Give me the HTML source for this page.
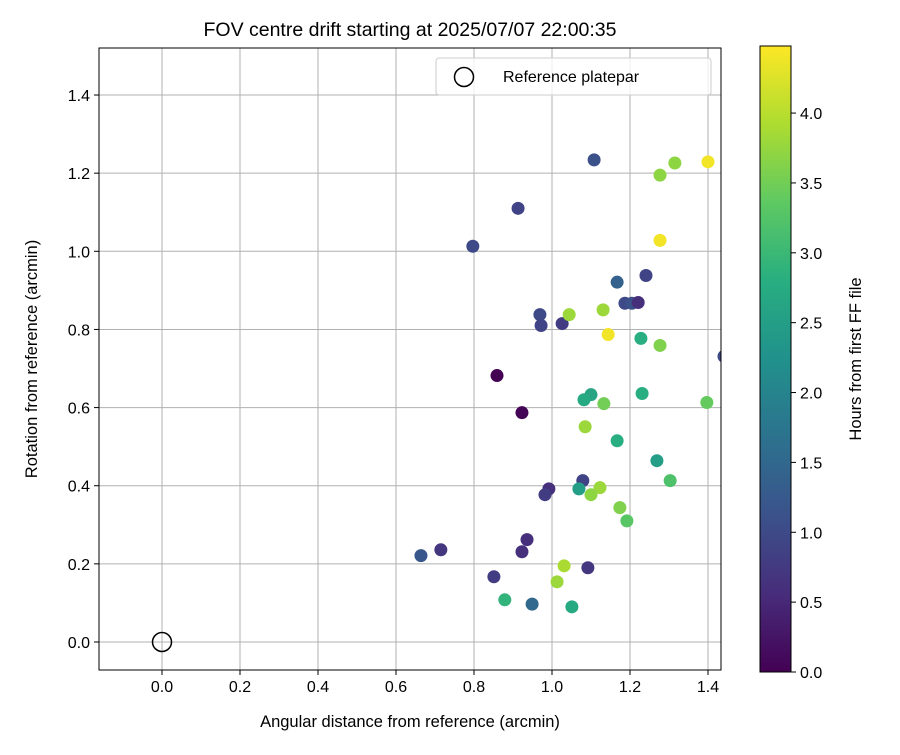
<!DOCTYPE html>
<html><head><meta charset="utf-8"><style>
body{margin:0;background:#fff;font-family:"Liberation Sans","DejaVu Sans",sans-serif}
</style></head><body>
<svg id="chart" width="900" height="750" xmlns="http://www.w3.org/2000/svg">
<defs><linearGradient id="vir" x1="0" y1="1" x2="0" y2="0">
<stop offset="0" stop-color="#440154"/><stop offset="0.125" stop-color="#472d7b"/><stop offset="0.25" stop-color="#3b528b"/><stop offset="0.375" stop-color="#2c728e"/><stop offset="0.5" stop-color="#21918c"/><stop offset="0.625" stop-color="#28ae80"/><stop offset="0.75" stop-color="#5ec962"/><stop offset="0.875" stop-color="#addc30"/><stop offset="1" stop-color="#fde725"/></linearGradient></defs>
<g id="grid"></g><g id="pts"></g><g id="axes"></g>
</svg>
<script>
const xs=[1.108,1.400,1.315,1.277,0.913,0.797,1.277,1.167,1.241,1.187,1.205,1.221,0.969,0.972,1.026,1.044,1.131,1.144,1.228,1.277,1.441,0.859,0.923,1.100,1.082,1.133,1.397,1.231,1.085,1.167,1.269,1.079,0.992,0.982,1.069,1.123,1.303,1.100,1.174,1.192,0.936,0.923,0.664,0.715,0.851,1.031,1.013,1.092,0.879,0.949,1.051];
const ys=[1.234,1.229,1.226,1.195,1.110,1.013,1.028,0.921,0.938,0.867,0.867,0.869,0.838,0.810,0.815,0.838,0.850,0.787,0.777,0.759,0.731,0.682,0.587,0.633,0.620,0.610,0.613,0.636,0.551,0.515,0.464,0.413,0.392,0.377,0.392,0.395,0.413,0.377,0.344,0.310,0.262,0.231,0.221,0.236,0.167,0.195,0.154,0.190,0.108,0.097,0.090];
const hrs=[1.1,4.4,3.7,3.7,0.9,1.0,4.4,1.4,0.9,1.0,1.1,0.6,1.0,0.9,0.8,3.8,3.8,4.4,2.8,3.6,1.0,0.0,0.05,2.6,2.7,3.5,3.4,2.8,3.8,2.8,2.5,0.9,0.6,0.8,2.5,3.8,3.2,3.7,3.6,3.3,0.6,0.6,1.2,0.7,0.8,3.9,3.8,0.7,2.9,1.5,2.7];
const xTicks=[0,0.2,0.4,0.6,0.8,1.0,1.2,1.4];
const yTicks=[0,0.2,0.4,0.6,0.8,1.0,1.2,1.4];
const cTicks=[0,0.5,1,1.5,2,2.5,3,3.5,4];
const L=99,R=721,T=48,B=670;
const X=v=>162+v*390, Y=v=>642-v*390.7;
const cmax=4.48, CY=v=>672-v/cmax*626;
const vir=["#440154","#472d7b","#3b528b","#2c728e","#21918c","#28ae80","#5ec962","#addc30","#fde725"];
function hex(h){return [1,3,5].map(i=>parseInt(h.substr(i,2),16));}
function col(v){let t=Math.max(0,Math.min(1,v/cmax))*(vir.length-1);let i=Math.min(vir.length-2,Math.floor(t)),f=t-i;let a=hex(vir[i]),b=hex(vir[i+1]);return `rgb(${a.map((c,k)=>Math.round(c+(b[k]-c)*f)).join(',')})`;}
const NS="http://www.w3.org/2000/svg";
function mk(p,tag,at,txt){const e=document.createElementNS(NS,tag);for(const k in at)e.setAttribute(k,at[k]);if(txt!=null)e.textContent=txt;p.appendChild(e);return e;}
const g=document.getElementById('grid'),pg=document.getElementById('pts'),ax=document.getElementById('axes');
xTicks.forEach(t=>{const l=mk(g,'line',{x1:X(t),x2:X(t),y1:T,y2:B,stroke:'#b0b0b0','stroke-width':1});


mk(ax,'line',{x1:X(t),x2:X(t),y1:B,y2:B+5,stroke:'#000'});
const s=mk(ax,'text',{x:X(t),y:B+22,'text-anchor':'middle','font-size':16},t.toFixed(1));

});
yTicks.forEach(t=>{const l=mk(g,'line',{x1:L,x2:R,y1:Y(t),y2:Y(t),stroke:'#b0b0b0','stroke-width':1});


mk(ax,'line',{x1:L-5,x2:L,y1:Y(t),y2:Y(t),stroke:'#000'});
const s=mk(ax,'text',{x:L-9,y:Y(t)+6,'text-anchor':'end','font-size':16},t.toFixed(1));

});
const cp=mk(pg,'clipPath',{id:'cp'});mk(cp,'rect',{x:L,y:T,width:R-L,height:B-T});
const pc=mk(pg,'g',{'clip-path':'url(#cp)'});
xs.forEach((x,i)=>{const c=mk(pc,'circle',{cx:X(x),cy:Y(ys[i]),r:6.5,fill:col(hrs[i])});

});
const rc=mk(pc,'circle',{cx:X(0),cy:Y(0),r:9.5,fill:'none',stroke:'#000','stroke-width':1.5});


mk(ax,'rect',{x:L,y:T,width:R-L,height:B-T,fill:'none',stroke:'#000','stroke-width':1});
const lg=mk(ax,'g',{});


mk(lg,'rect',{x:436,y:58,width:275,height:37,rx:3,fill:'#fff','fill-opacity':0.8,stroke:'#ccc'});
mk(lg,'circle',{cx:464,cy:77,r:9.5,fill:'none',stroke:'#000','stroke-width':1.5});
mk(lg,'text',{x:503,y:82,'font-size':16},'Reference platepar');
const ti=mk(ax,'text',{x:410,y:36,'text-anchor':'middle','font-size':19.5},'FOV centre drift starting at 2025/07/07 22:00:35');


const xl=mk(ax,'text',{x:410,y:727,'text-anchor':'middle','font-size':16.5},'Angular distance from reference (arcmin)');


const yl=mk(ax,'text',{x:37,y:359,'text-anchor':'middle','font-size':16.5,transform:'rotate(-90 37 359)'},'Rotation from reference (arcmin)');


const cb=mk(ax,'rect',{x:760,y:46,width:31,height:626,fill:'url(#vir)',stroke:'#000'});


cTicks.forEach(t=>{mk(ax,'line',{x1:791,x2:796,y1:CY(t),y2:CY(t),stroke:'#000'});
const s=mk(ax,'text',{x:800,y:CY(t)+6,'font-size':16},t.toFixed(1));

});
const cl=mk(ax,'text',{x:861,y:359,'text-anchor':'middle','font-size':16.5,transform:'rotate(-90 861 359)'},'Hours from first FF file');


</script>
</body></html>
